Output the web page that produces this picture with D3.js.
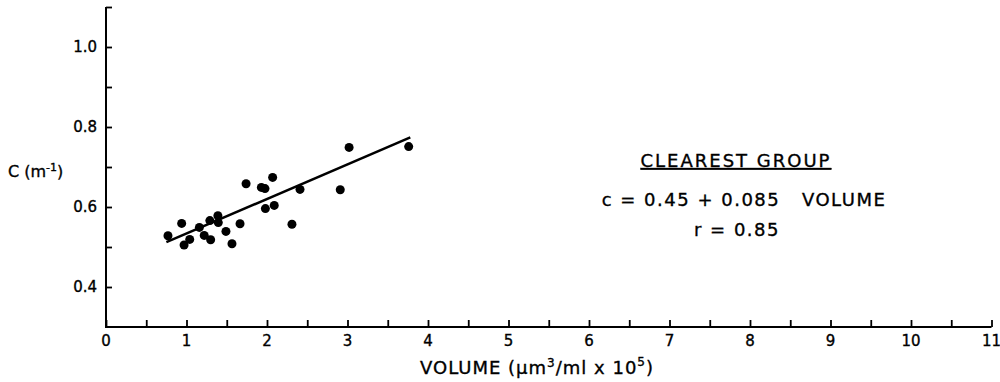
<!DOCTYPE html>
<html lang="en">
<meta charset="utf-8">
<title>Clearest group</title>
<style>
    body { margin: 0; background: white; }
    text { font-family: "DejaVu Sans", "Liberation Sans", sans-serif; fill: black; stroke: black; stroke-width: 0.35; }
</style>
<body>
<svg id="canvas"></svg>
<script src="https://cdn.jsdelivr.net/npm/d3@7"></script>
<script>

    ///////////////////// Data ////////////////////////
    var volume = [0.77, 0.94, 0.97, 1.04, 1.16, 1.22, 1.30, 1.29, 1.39, 1.395, 1.49, 1.565,
                  1.665, 1.74, 1.93, 1.975, 2.07, 1.98, 2.09, 2.41, 2.31, 2.91, 3.02, 3.76];
    var cvals  = [0.528, 0.559, 0.505, 0.519, 0.549, 0.529, 0.518, 0.566, 0.578, 0.561, 0.539, 0.508,
                  0.558, 0.658, 0.649, 0.646, 0.674, 0.596, 0.604, 0.644, 0.557, 0.643, 0.749, 0.751];
    // regression line end points
    var fit_x  = [0.75, 3.78];
    var fit_c  = [0.512, 0.774];

    var x_major  = [0, 1, 2, 3, 4, 5, 6, 7, 8, 9, 10, 11];
    var x_minor  = [0.5, 1.5, 2.5, 3.5, 4.5, 5.5, 6.5, 7.5, 8.5, 9.5, 10.5];
    var y_major  = [0.4, 0.6, 0.8, 1.0];
    var y_minor  = [0.5, 0.7, 0.9];
    var y_labels = ["0.4", "0.6", "0.8", "1.0"];
    ///////////////////////////////////////////////////

    ///////// Position and Dimension Variables ////////
    var dimensions = [1000, 382];
    var x0 = 106, x1 = 991.5;     // 0 .. 11
    var y_bot = 327, y_top = 7;   // 0.3 .. 1.1
    var tick_len = 7;
    ///////////////////////////////////////////////////

    var canvas = d3.select("#canvas")
        .attr('width',  dimensions[0])
        .attr('height', dimensions[1]);

    var x = d3.scaleLinear().domain([0, 11]).range([x0, x1]);
    var y = d3.scaleLinear().domain([0.3, 1.1]).range([y_bot, y_top]);

    //////////////////// axes /////////////////////////
    var xAxis = d3.axisTop(x)
        .tickValues(x_major.concat(x_minor))
        .tickSize(tick_len)
        .tickFormat("");
    var gx = canvas.append("g")
        .attr('transform', 'translate(0,' + y_bot + ')')
        .call(xAxis);
    gx.select(".domain").remove();
    gx.selectAll("line").attr('stroke', 'black').attr('stroke-width', 1.8);

    var yAxis = d3.axisRight(y)
        .tickValues(y_major.concat(y_minor, [1.1]))
        .tickSize(tick_len - 1)
        .tickFormat("");
    var gy = canvas.append("g")
        .attr('transform', 'translate(' + x0 + ',0)')
        .call(yAxis);
    gy.select(".domain").remove();
    gy.selectAll("line").attr('stroke', 'black').attr('stroke-width', 1.8);

    canvas.append("path")
        .attr('d', 'M' + x0 + ',' + y_top + 'V' + y_bot + 'H' + x1)
        .attr('fill', 'none')
        .attr('stroke', 'black')
        .attr('stroke-width', 2);

    // tick labels
    canvas.selectAll(".xlab")
        .data(x_major)
        .enter().append("text")
        .attr('x', function (d) { return x(d); })
        .attr('y', y_bot + 19)
        .attr('text-anchor', 'middle')
        .attr('font-size', 15)
        .text(function (d) { return d; });

    canvas.selectAll(".ylab")
        .data(y_major)
        .enter().append("text")
        .attr('x', x0 - 9)
        .attr('y', function (d) { return y(d) + 5; })
        .attr('text-anchor', 'end')
        .attr('font-size', 15)
        .text(function (d, i) { return y_labels[i]; });
    ///////////////////////////////////////////////////

    ///////////////// axis titles /////////////////////
    var ytitle = canvas.append("text")
        .attr('x', 8)
        .attr('y', 177)
        .attr('font-size', 16);
    ytitle.append("tspan").text("C (m");
    ytitle.append("tspan").attr('dy', -6).attr('font-size', 11).text("-1");
    ytitle.append("tspan").attr('dy', 6).text(")");

    var xtitle = canvas.append("text")
        .attr('x', 420)
        .attr('y', 374)
        .attr('font-size', 18)
        .attr('letter-spacing', 1);
    xtitle.append("tspan").text("VOLUME  (\u03bcm");
    xtitle.append("tspan").attr('dy', -7).attr('font-size', 12).text("3");
    xtitle.append("tspan").attr('dy', 7).text("/ml x 10");
    xtitle.append("tspan").attr('dy', -8).attr('font-size', 12).text("5");
    xtitle.append("tspan").attr('dy', 8).text(")");
    ///////////////////////////////////////////////////

    //////////////// points and fit ///////////////////
    canvas.selectAll(".dot")
        .data(volume)
        .enter().append("circle")
        .attr('cx', function (d) { return x(d); })
        .attr('cy', function (d, i) { return y(cvals[i]); })
        .attr('r', 4.5)
        .attr('fill', 'black');

    canvas.append("line")
        .attr('x1', x(fit_x[0])).attr('y1', y(fit_c[0]))
        .attr('x2', x(fit_x[1])).attr('y2', y(fit_c[1]))
        .attr('stroke', 'black')
        .attr('stroke-width', 2.5);
    ///////////////////////////////////////////////////

    ///////////////// annotation //////////////////////
    var ann_x = 736;
    canvas.append("text")
        .attr('x', ann_x).attr('y', 167)
        .attr('text-anchor', 'middle')
        .attr('font-size', 18)
        .attr('letter-spacing', 2)
        .attr('text-decoration', 'underline')
        .text("CLEAREST  GROUP");
    canvas.append("text")
        .attr('x', 744).attr('y', 206)
        .attr('text-anchor', 'middle')
        .attr('font-size', 18)
        .attr('letter-spacing', 1.5)
        .style('white-space', 'pre')
        .text("c = 0.45 + 0.085   VOLUME");
    canvas.append("text")
        .attr('x', 737).attr('y', 236)
        .attr('text-anchor', 'middle')
        .attr('font-size', 18)
        .attr('letter-spacing', 1.5)
        .text("r = 0.85");
    ///////////////////////////////////////////////////

</script>
</body>
</html>
